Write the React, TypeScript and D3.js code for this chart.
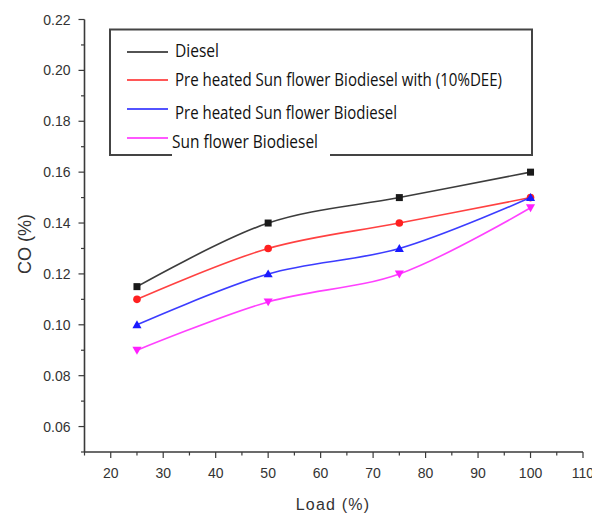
import React from "react";
import * as d3 from "d3";

const loads = [25, 50, 75, 100];
const diesel = [0.115, 0.14, 0.15, 0.16];
const preheatedDEE = [0.11, 0.13, 0.14, 0.15];
const preheated = [0.1, 0.12, 0.13, 0.15];
const sunflower = [0.09, 0.109, 0.12, 0.146];

const xTicks = [20, 30, 40, 50, 60, 70, 80, 90, 100, 110];
const yTicks = [0.06, 0.08, 0.1, 0.12, 0.14, 0.16, 0.18, 0.2, 0.22];

const seriesNames = [
  "Diesel",
  "Pre heated Sun flower Biodiesel with (10%DEE)",
  "Pre heated Sun flower Biodiesel",
  "Sun flower Biodiesel",
];
const seriesValues = [diesel, preheatedDEE, preheated, sunflower];
const seriesColors = ["#1a1a1a", "#ff2020", "#1a1aff", "#ff20ff"];
const seriesMarkers = ["square", "circle", "up", "down"];

const W = 592;
const H = 513;
const x = d3.scaleLinear().domain([15, 110]).range([84.5, 583]);
const y = d3.scaleLinear().domain([0.05, 0.22]).range([452, 19.5]);

const axisColor = "#3a3a3a";
const tickFont = "Liberation Sans, Arial, sans-serif";

function Marker({ kind, cx, cy, color }: { kind: string; cx: number; cy: number; color: string }) {
  if (kind === "square") return <rect x={cx - 3.5} y={cy - 3.5} width={7} height={7} fill={color} />;
  if (kind === "circle") return <circle cx={cx} cy={cy} r={3.8} fill={color} />;
  const sym = d3.symbol().type(d3.symbolTriangle).size(36)();
  return (
    <path
      d={sym || ""}
      fill={color}
      transform={`translate(${cx},${cy + (kind === "up" ? 0.8 : -0.8)}) rotate(${kind === "up" ? 0 : 180})`}
    />
  );
}

export default function App() {
  const line = d3
    .line<[number, number]>()
    .x((d) => x(d[0]))
    .y((d) => y(d[1]))
    .curve(d3.curveCatmullRom.alpha(0.5));

  const xMinor = d3.range(15, 111, 5);
  const yMinor = d3.range(0.05, 0.2201, 0.01);

  const legendRows = [50, 79, 112, 141];
  const legendLineY = [52, 80, 109, 138];

  return (
    <div style={{ position: "absolute", left: 0, top: 0 }}>
      <svg width={W} height={H} style={{ display: "block", background: "#fff" }}>
        {/* axes */}
        <line x1={x(15)} x2={x(110)} y1={y(0.05)} y2={y(0.05)} stroke={axisColor} strokeWidth={1.6} />
        <line x1={x(15)} x2={x(15)} y1={y(0.05)} y2={y(0.22)} stroke={axisColor} strokeWidth={1.6} />
        {xMinor.map((v) => {
          const major = Math.round(v) % 10 === 0;
          return (
            <line
              key={"xt" + v}
              x1={x(v)}
              x2={x(v)}
              y1={y(0.05)}
              y2={y(0.05) + (major ? 6 : 3.5)}
              stroke={axisColor}
              strokeWidth={1.2}
            />
          );
        })}
        {yMinor.map((v, i) => {
          const major = i % 2 === 1;
          return (
            <line
              key={"yt" + i}
              x1={x(15)}
              x2={x(15) - (major ? 6 : 3.5)}
              y1={y(v)}
              y2={y(v)}
              stroke={axisColor}
              strokeWidth={1.2}
            />
          );
        })}
        {xTicks.map((v) => (
          <text
            key={"xl" + v}
            x={x(v)}
            y={478}
            textAnchor="middle"
            fontFamily={tickFont}
            fontSize={14}
            fill="#333"
          >
            {v}
          </text>
        ))}
        {yTicks.map((v) => (
          <text
            key={"yl" + v}
            x={70.5}
            y={y(v) + 5}
            textAnchor="end"
            fontFamily={tickFont}
            fontSize={14}
            fill="#333"
          >
            {v.toFixed(2)}
          </text>
        ))}
        <text
          x={333}
          y={510}
          textAnchor="middle"
          fontFamily={tickFont}
          fontSize={16}
          letterSpacing={1.2}
          fill="#333"
        >
          Load (%)
        </text>
        <text
          transform="translate(30.5,244) rotate(-90)"
          textAnchor="middle"
          fontFamily={tickFont}
          fontSize={18}
          fill="#333"
        >
          CO (%)
        </text>

        {/* series */}
        {seriesValues.map((vals, si) => {
          const pts = loads.map((l, i) => [l, vals[i]] as [number, number]);
          return (
            <g key={"s" + si}>
              <path d={line(pts) || ""} fill="none" stroke={seriesColors[si]} strokeWidth={1.6} opacity={0.85} />
              {pts.map((p, i) => (
                <Marker key={i} kind={seriesMarkers[si]} cx={x(p[0])} cy={y(p[1])} color={seriesColors[si]} />
              ))}
            </g>
          );
        })}

        {/* legend */}
        <rect x={110} y={29.5} width={422} height={125.5} fill="#fff" stroke="#444" strokeWidth={2} />
        {seriesNames.map((name, i) => (
          <g key={"lg" + i}>
            <line x1={127} x2={168} y1={legendLineY[i]} y2={legendLineY[i]} stroke={seriesColors[i]} strokeWidth={2} opacity={0.75} />
            {i === 3 && <rect x={172} y={131} width={158} height={27} fill="#fff" />}
            <text
              x={i === 3 ? 172 : 175}
              y={legendRows[i] + 6.5}
              fontFamily="Open Sans, sans-serif"
              fontSize={18}
              fill="#111"
              textLength={[44, 327, 222, 146][i]}
              lengthAdjust="spacingAndGlyphs"
            >
              {name}
            </text>
          </g>
        ))}
      </svg>
    </div>
  );
}
